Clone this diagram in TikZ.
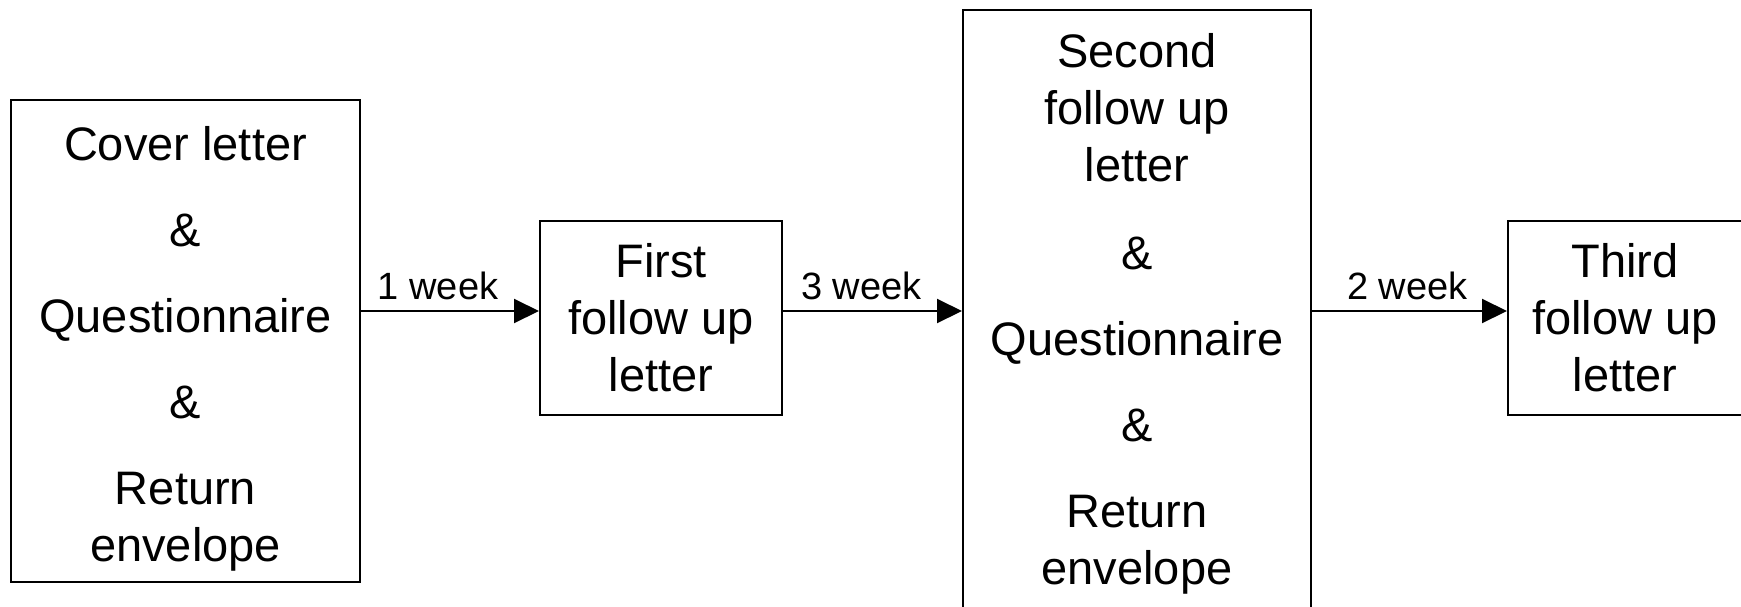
\documentclass[tikz,border=0pt]{standalone}
\usepackage{fontspec}
\setmainfont{Liberation Sans}
\usetikzlibrary{arrows.meta}
\begin{document}
\begin{tikzpicture}[x=0.5pt,y=-0.5pt,
  box/.style={draw,line width=1pt,align=center,inner sep=0pt,
    font=\fontsize{23.5}{28.5}\selectfont},
  boxtext/.style={align=center,inner sep=0pt,
    font=\fontsize{23.5}{28.5}\selectfont},
  flow/.style={-{Triangle[length=12.5pt,width=12pt]},line width=1pt},
  lbl/.style={font=\fontsize{19}{22}\selectfont,above,yshift=1.5pt}]
\useasboundingbox (0,0) rectangle (1741,606);

% mailing steps
\node[box,minimum width=174.5pt,minimum height=241pt,
  label={[boxtext,yshift=-4pt]center:{Cover letter\\[14.5pt]\&\\[14.5pt]Questionnaire\\[14.5pt]\&\\[14.5pt]Return\\envelope}}]
  (b1) at (185.5,341) {};
\node[box,minimum width=121pt,minimum height=97pt] (b2) at (661,318)
  {First\\follow up\\letter};
\node[box,minimum width=174pt,minimum height=301pt,
  label={[boxtext,yshift=-1.5pt]center:{Second\\follow up\\letter\\[15.5pt]\&\\[14.5pt]Questionnaire\\[14.5pt]\&\\[14.5pt]Return\\envelope}}]
  (b3) at (1137,311) {};
\node[box,minimum width=117pt,minimum height=97pt] (b4) at (1625,318)
  {Third\\follow up\\letter};

% time intervals between steps
\coordinate (lvl) at (0,311);
\draw[flow] (b1.east |- lvl) -- node[lbl,xshift=-6pt]{1 week} (b2.west |- lvl);
\draw[flow] (b2.east |- lvl) -- node[lbl,xshift=-5.5pt]{3 week} (b3.west |- lvl);
\draw[flow] (b3.east |- lvl) -- node[lbl,xshift=-1pt]{2 week} (b4.west |- lvl);
\end{tikzpicture}
\end{document}
